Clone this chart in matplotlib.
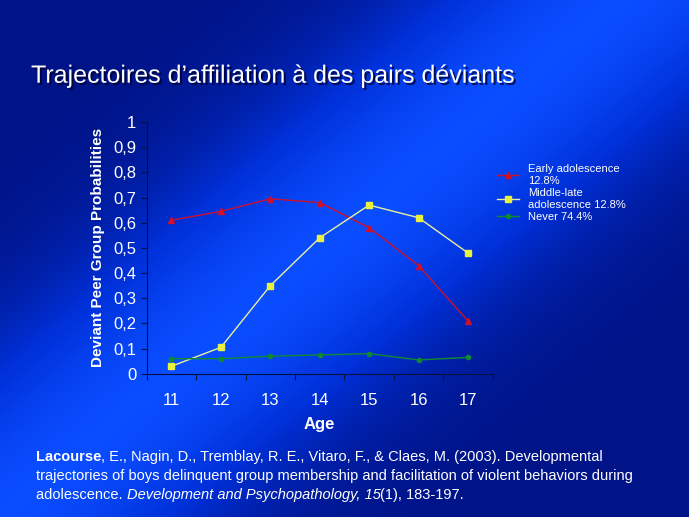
import numpy as np
import matplotlib.pyplot as plt
import matplotlib.patheffects as pe
from matplotlib.colors import LinearSegmentedColormap

plt.rcParams["font.family"] = "Liberation Sans"

ages = [11, 12, 13, 14, 15, 16, 17]
early = [0.61, 0.645, 0.695, 0.68, 0.58, 0.43, 0.21]
middle = [0.03, 0.105, 0.35, 0.54, 0.67, 0.62, 0.48]
never = [0.06, 0.06, 0.07, 0.075, 0.08, 0.055, 0.065]
yticks = [0, 0.1, 0.2, 0.3, 0.4, 0.5, 0.6, 0.7, 0.8, 0.9, 1]
ylabels = ["0", "0,1", "0,2", "0,3", "0,4", "0,5", "0,6", "0,7", "0,8", "0,9", "1"]

fig = plt.figure(figsize=(6.89, 5.17), dpi=100)

# background: blue with a lighter diagonal streak (bottom-left to top-right)
bg = fig.add_axes([0, 0, 1, 1])
yy, xx = np.mgrid[0:1:300j, 0:1:400j]
d = np.abs((xx - 0.45) - (yy - 0.5) * 0.9)
g = np.exp(-(d / 0.3) ** 2)
cmap = LinearSegmentedColormap.from_list("bgblue", ["#001488", "#0030d8", "#0a4cff"])
bg.imshow(g, cmap=cmap, aspect="auto", extent=[0, 1, 0, 1], origin="lower")
bg.axis("off")

fig.text(0.045, 0.84, "Trajectoires d\u2019affiliation à des pairs déviants",
         color="white", fontsize=18,
         path_effects=[pe.withSimplePatchShadow(offset=(1.5, -1.5), shadow_rgbFace="#000030", alpha=0.8)])

ax = fig.add_axes([0.213, 0.277, 0.502, 0.487])
ax.patch.set_alpha(0)
x = np.arange(len(ages))
ax.plot(x, early, color="#d0102a", marker="^", ms=4, lw=1, label="Early adolescence\n12.8%")
ax.plot(x, middle, color="#e8f0a0", marker="s", ms=4, mfc="#e8f040", mec="#e8f040", lw=1,
        label="Middle-late\nadolescence 12.8%")
ax.plot(x, never, color="#108a30", marker="o", ms=3, lw=1, label="Never 74.4%")
ax.set_xlim(-0.5, len(ages) - 0.5)
ax.set_ylim(0, 1)
ax.set_xticks(np.arange(-0.5, len(ages), 1), minor=False)
ax.set_xticklabels([])
ax.set_xticks(x, minor=True)
ax.set_xticklabels([str(a) for a in ages], minor=True)
ax.tick_params(axis="x", which="minor", length=0, pad=14, colors="white", labelsize=12)
ax.tick_params(axis="x", which="major", length=4, colors="#001040", direction="out")
ax.set_yticks(yticks)
ax.set_yticklabels(ylabels)
ax.tick_params(axis="y", labelcolor="white", color="#001040", labelsize=12, length=4)
for sp in ["top", "right"]:
    ax.spines[sp].set_visible(False)
for sp in ["left", "bottom"]:
    ax.spines[sp].set_color("#001040")
ax.set_xlabel("Age", color="white", fontsize=12, fontweight="bold", labelpad=6)
ax.set_ylabel("Deviant Peer Group Probabilities", color="white", fontsize=11,
              fontweight="bold", labelpad=6)
ax.legend(loc="upper left", bbox_to_anchor=(1.0, 0.85), frameon=False, fontsize=8,
          labelcolor="white", handlelength=2, borderaxespad=0, labelspacing=0.2)

# citation with mixed styles
fig.canvas.draw()
r = fig.canvas.get_renderer()
lines = [
    [("Lacourse", "bold"), (", E., Nagin, D., Tremblay, R. E., Vitaro, F., & Claes, M. (2003). Developmental", "normal")],
    [("trajectories of boys delinquent group membership and facilitation of violent behaviors during", "normal")],
    [("adolescence. ", "normal"), ("Development and Psychopathology, 15", "italic"), ("(1), 183-197.", "normal")],
]
y0 = 0.108
for line in lines:
    xpos = 36
    for txt, sty in line:
        kw = {"fontweight": "bold"} if sty == "bold" else ({"fontstyle": "italic"} if sty == "italic" else {})
        t = fig.text(xpos / 689, y0, txt, color="white", fontsize=10.5, **kw)
        xpos = t.get_window_extent(r).x1
    y0 -= 0.037

fig.savefig("out.png", dpi=100)
